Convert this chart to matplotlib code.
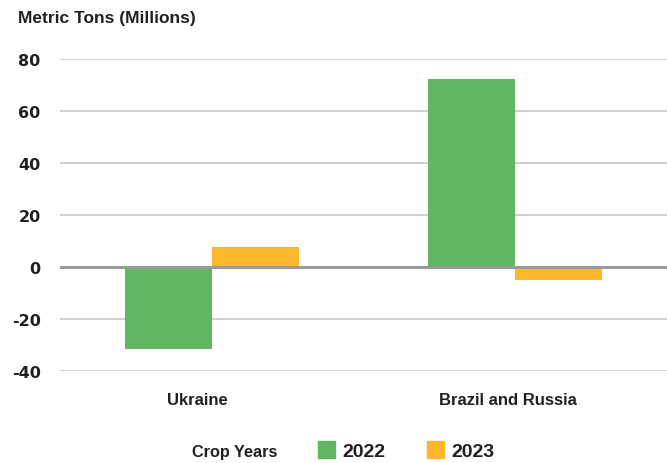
import matplotlib
matplotlib.use("Agg")
import matplotlib.pyplot as plt
from matplotlib.patches import Rectangle
import numpy as np

plt.rcParams['font.family'] = ['Liberation Sans', 'DejaVu Sans']
plt.rcParams['font.weight'] = 'bold'

categories = ["Ukraine", "Brazil and Russia"]
years = ["2022", "2023"]
vals_2022 = [-31.5, 72.2]
vals_2023 = [7.7, -5.0]
colors = ["#62b562", "#fdb72e"]
yticks = [-40, -20, 0, 20, 40, 60, 80]
txt = '#231f20'

fig = plt.figure(figsize=(6.67, 4.64), dpi=100)
ax = fig.add_axes([0.09, 0.198, 0.91, 0.673])

x = np.arange(len(categories))
w = 0.287
ax.bar(x - w / 2, vals_2022, w, color=colors[0], zorder=2)
ax.bar(x + w / 2, vals_2023, w, color=colors[1], zorder=2)

ax.set_xlim(-0.5, 1.5)
ax.set_ylim(-40, 80)
ax.set_yticks(yticks)
ax.set_yticklabels([str(t) for t in yticks], fontsize=11.5, fontweight='bold',
                   color=txt, family='DejaVu Sans')
# category labels sit a little left of the bar pairs
ax.set_xticks(x + np.array([-0.048, -0.023]))
ax.set_xticklabels(categories, fontsize=12, fontweight='bold', color=txt)
ax.tick_params(axis='y', length=0, pad=14)
ax.tick_params(axis='x', length=0, pad=15)
for t in yticks:
    if t == 0:
        ax.axhline(t, color='#9a9a9a', lw=2.2, zorder=3)
    else:
        ax.axhline(t, color='#c4c4c4', lw=1.1, zorder=1)
for s in ax.spines.values():
    s.set_visible(False)

fig.text(18 / 667, 1 - 18 / 464, "Metric Tons (Millions)", fontsize=12.5,
         fontweight='bold', color=txt, va='center', ha='left')

# legend
ly = 1 - 452.5 / 464
fig.text(192 / 667, ly, "Crop Years", fontsize=11.7, fontweight='bold',
         color=txt, va='center', ha='left')
for i, (yr, c) in enumerate(zip(years, colors)):
    x0 = (318 + i * 109) / 667
    fig.add_artist(Rectangle((x0, 1 - 459 / 464), 17 / 667, 17 / 464,
                             transform=fig.transFigure, color=c))
    fig.text(x0 + 24 / 667, ly, yr, fontsize=14, fontweight='bold',
             color=txt, va='center', ha='left')

fig.savefig("out.png", dpi=100)
